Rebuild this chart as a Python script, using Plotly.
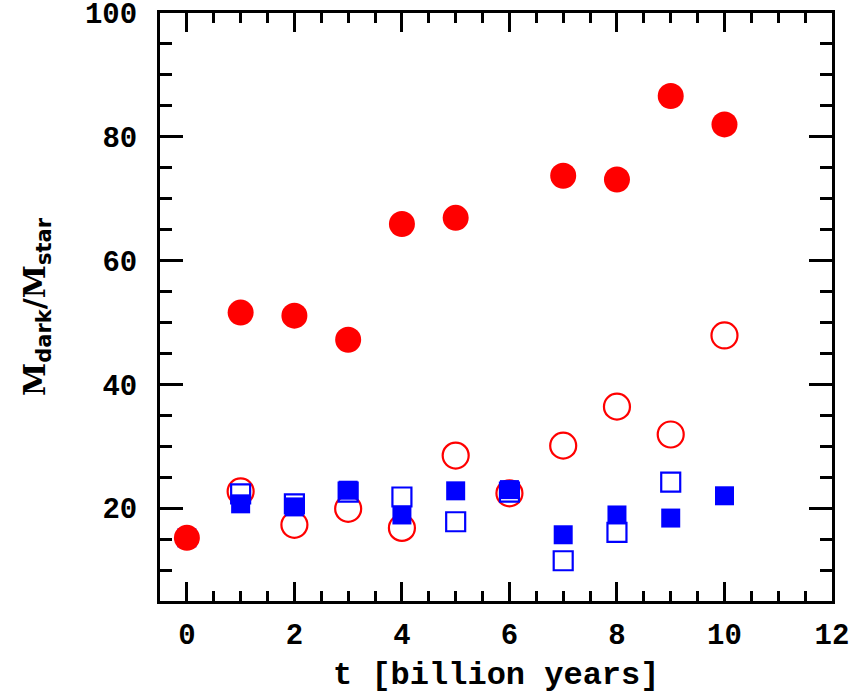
import plotly.graph_objects as go

# Mass ratio M_dark / M_star versus time
t_full = [0, 1, 2, 3, 4, 5, 7, 8, 9, 10]
ratio_full = [15.2, 51.6, 51.1, 47.2, 65.9, 66.9, 73.7, 73.1, 86.6, 82.0]

t_full_open = [1, 2, 3, 4, 5, 6, 7, 8, 9, 10]
ratio_full_open = [22.7, 17.3, 19.9, 16.8, 28.5, 22.4, 30.1, 36.4, 31.9, 47.9]

t_inner = [0, 1, 2, 3, 4, 5, 6, 7, 8, 9, 10]
ratio_inner = [15.2, 20.7, 20.2, 22.9, 18.9, 22.8, 23.0, 15.7, 18.9, 18.4, 22.0]

t_inner_open = [1, 2, 3, 4, 5, 6, 7, 8, 9]
ratio_inner_open = [22.3, 20.7, 22.6, 21.8, 17.8, 22.6, 11.5, 16.1, 24.2]

x_ticks = [0, 2, 4, 6, 8, 10, 12]
y_ticks = [20, 40, 60, 80, 100]

x_title = "t [billion years]"
y_title = ("M<sub><span style='font-family:DejaVu Sans'>dark</span></sub>"
           "/M<sub><span style='font-family:DejaVu Sans'>star</span></sub>")

RED = "#ff0000"
BLUE = "#0000ff"

fig = go.Figure()

fig.add_trace(go.Scatter(
    x=t_full_open, y=ratio_full_open, mode="markers",
    marker=dict(symbol="circle-open", size=26, color=RED, line=dict(width=2.2, color=RED)),
))
fig.add_trace(go.Scatter(
    x=t_inner_open, y=ratio_inner_open, mode="markers",
    marker=dict(symbol="square-open", size=19, color=BLUE, line=dict(width=2.2, color=BLUE)),
))
fig.add_trace(go.Scatter(
    x=t_inner, y=ratio_inner, mode="markers",
    marker=dict(symbol="square", size=19, color=BLUE, line=dict(width=0)),
))
fig.add_trace(go.Scatter(
    x=t_full, y=ratio_full, mode="markers",
    marker=dict(symbol="circle", size=26, color=RED, line=dict(width=0)),
))

tick_font = dict(family="Liberation Mono", size=29, color="black", weight="bold")

axis_common = dict(
    showline=True, linecolor="black", linewidth=3, mirror="allticks",
    ticks="inside", tickcolor="black", tickwidth=2.5,
    showgrid=False, zeroline=False, tickfont=tick_font, automargin=False,
    ticklabeloverflow="allow",
)

fig.update_xaxes(
    range=[-0.5, 12], tickvals=x_ticks, ticklen=19,
    minor=dict(dtick=0.5, ticklen=10, tickwidth=2.5, tickcolor="black", ticks="inside"),
    ticklabelstandoff=5,
    **axis_common,
)
fig.update_yaxes(
    range=[5, 100], tickvals=y_ticks, ticklen=23,
    minor=dict(dtick=5, ticklen=12, tickwidth=2.5, tickcolor="black", ticks="inside"),
    ticklabelstandoff=14,
    **axis_common,
)

# Axis titles placed as annotations relative to the plotting area
fig.add_annotation(
    text=x_title, xref="paper", yref="paper", x=0.5, y=0,
    yshift=-74, yanchor="middle", showarrow=False,
    font=dict(family="Liberation Mono", size=32, color="black", weight="bold"),
)
fig.add_annotation(
    text=y_title, xref="paper", yref="paper", x=0, y=0.5,
    xshift=-124, xanchor="center", yanchor="middle", textangle=-90, showarrow=False,
    font=dict(family="DejaVu Serif", size=30, color="black", weight="bold"),
)

fig.update_layout(
    width=857, height=698,
    margin=dict(l=160, r=25, t=13, b=97),
    paper_bgcolor="white", plot_bgcolor="white",
    showlegend=False,
)

fig.write_html("out.html")
